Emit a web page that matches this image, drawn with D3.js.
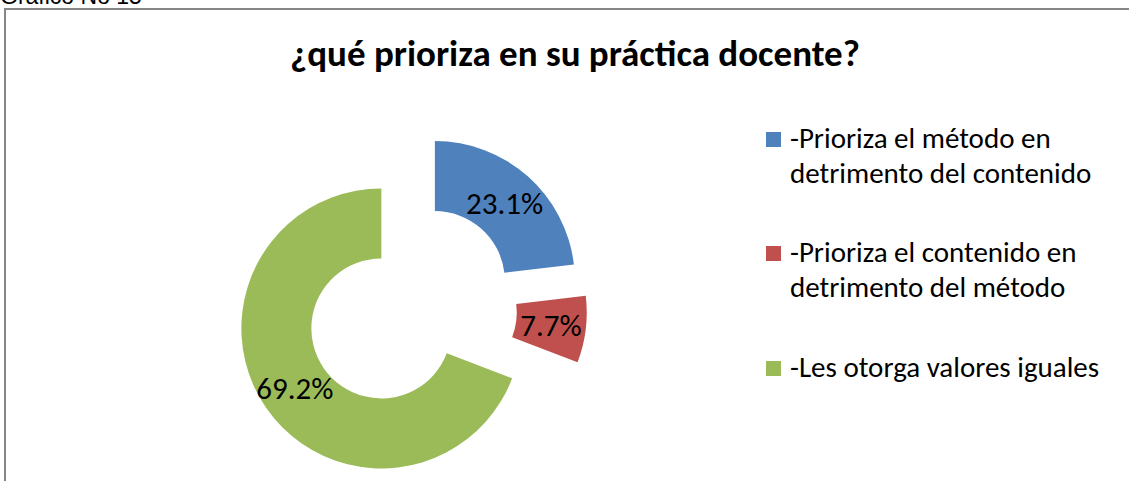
<!DOCTYPE html>
<html>
<head>
<meta charset="utf-8">
<script src="https://cdn.jsdelivr.net/npm/d3@7"></script>
<style>
  body { margin: 0; background: #fff; }
  svg { display: block; }
</style>
</head>
<body>
<svg id="drawing_region"></svg>
<script>
var categories = [
    '-Prioriza el método en detrimento del contenido',
    '-Prioriza el contenido en detrimento del método',
    '-Les otorga valores iguales'
];
var legend_lines = [
    ['-Prioriza el método en', 'detrimento del contenido'],
    ['-Prioriza el contenido en', 'detrimento del método'],
    ['-Les otorga valores iguales']
];
var values = [23.1, 7.7, 69.2];
var colors = ['#4F81BD', '#C0504D', '#9BBB59'];
var title = '¿qué prioriza en su práctica docente?';
var caption = 'Gráfico No 15';

var width = 1129;
var height = 481;
var font = 'Carlito, "Open Sans", sans-serif';

var svg = d3.select('#drawing_region')
    .attr('width', width)
    .attr('height', height);

// caption, mostly cut off at the top
svg.append('text')
    .attr('x', 0)
    .attr('y', 4)
    .attr('font-family', '"Liberation Sans", Arial, sans-serif')
    .attr('font-size', 23)
    .attr('fill', '#000')
    .text(caption);

// chart border (runs off right and bottom)
svg.append('rect')
    .attr('x', 5)
    .attr('y', 9)
    .attr('width', width + 20)
    .attr('height', height + 20)
    .attr('fill', 'none')
    .attr('stroke', '#868686')
    .attr('stroke-width', 2);

svg.append('text')
    .attr('x', 575)
    .attr('y', 66)
    .attr('text-anchor', 'middle')
    .attr('font-family', font)
    .attr('font-weight', 'bold')
    .attr('font-size', 37)
    .attr('fill', '#000')
    .text(title);

// doughnut
const cx = 411, cy = 308;
const outer = 140, inner = 70, explode = 36;

const pie = d3.pie().sort(null).value(d => d);
const arc = d3.arc().innerRadius(inner).outerRadius(outer);
const arcs = pie(values);

const chart = svg.append('g')
    .attr('transform', `translate(${cx}, ${cy})`);

const slices = chart.selectAll('g.slice')
    .data(arcs)
    .enter().append('g')
    .attr('class', 'slice')
    .attr('transform', d => {
        const a = (d.startAngle + d.endAngle) / 2;
        return `translate(${explode * Math.sin(a)}, ${-explode * Math.cos(a)})`;
    });

slices.append('path')
    .attr('d', arc)
    .attr('fill', (d, i) => colors[i]);

slices.append('text')
    .attr('transform', d => `translate(${arc.centroid(d)})`)
    .attr('text-anchor', 'middle')
    .attr('dy', '0.36em')
    .attr('font-family', font)
    .attr('font-size', 31)
    .attr('fill', '#000')
    .text(d => d.value.toFixed(1) + '%');

// legend
const legend_y = [148, 262, 377];
const legend = svg.append('g');

legend_lines.forEach((lines, i) => {
    const g = legend.append('g')
        .attr('transform', `translate(766, ${legend_y[i]})`);
    g.append('rect')
        .attr('x', 0)
        .attr('y', -16)
        .attr('width', 15)
        .attr('height', 15)
        .attr('fill', colors[i]);
    const t = g.append('text')
        .attr('font-family', font)
        .attr('font-size', 29)
        .attr('fill', '#000');
    lines.forEach((s, j) => {
        t.append('tspan')
            .attr('x', 24)
            .attr('y', j * 35)
            .text(s);
    });
});
</script>
</body>
</html>
